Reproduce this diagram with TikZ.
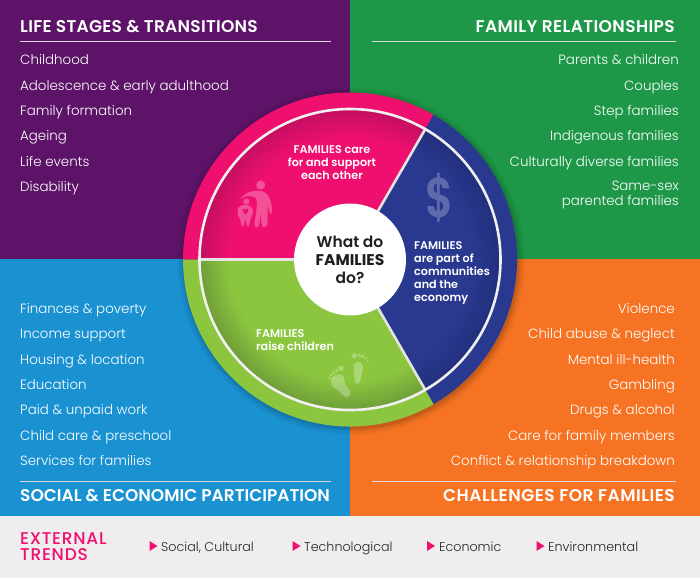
\documentclass[tikz,border=0pt]{standalone}
\usepackage{graphicx}
\usepackage{fontspec}
\setmainfont{Poppins}
\newfontfamily\hfont{Poppins Medium}
\newfontfamily\bfont{Poppins SemiBold}
\newfontfamily\xfont{Poppins Bold}
\newfontfamily\lfont{Poppins Light}
\definecolor{cpurple}{HTML}{5D1468}
\definecolor{cgreen}{HTML}{1E9848}
\definecolor{cblue}{HTML}{1A92D2}
\definecolor{corange}{HTML}{F57322}
\definecolor{cgrey}{HTML}{EFEDEE}
\definecolor{cpink}{HTML}{EE0F6F}
\definecolor{cpinkd}{HTML}{C40F60}
\definecolor{cnavy}{HTML}{2A3990}
\definecolor{cnavyd}{HTML}{222F7C}
\definecolor{clime}{HTML}{8CC63F}
\definecolor{climed}{HTML}{6F9D38}
\definecolor{cspoke}{HTML}{E4E4E0}
\pgfdeclareradialshading{vpink}{\pgfpoint{0bp}{0bp}}{color(0bp)=(cpink);color(20bp)=(cpink);color(25bp)=(cpinkd);color(50bp)=(cpinkd)}
\pgfdeclareradialshading{vnavy}{\pgfpoint{0bp}{0bp}}{color(0bp)=(cnavy);color(20bp)=(cnavy);color(25bp)=(cnavyd);color(50bp)=(cnavyd)}
\pgfdeclareradialshading{vlime}{\pgfpoint{0bp}{0bp}}{color(0bp)=(clime);color(20bp)=(clime);color(25bp)=(climed);color(50bp)=(climed)}
\tikzset{
  listitem/.style={text=white,font=\lfont\fontsize{13.4}{15}\selectfont,inner sep=0pt},
  lefti/.style={listitem,anchor=west,text height=10pt,text depth=0pt},
  righti/.style={listitem,anchor=east,align=right,text height=10pt,text depth=0pt},
  headl/.style={text=white,font=\bfont\fontsize{17}{18}\selectfont,inner sep=0pt,text height=12pt,text depth=0pt},
  rulel/.style={white!85!black,line width=0.8pt},
  seg/.style={text=white,font=\bfont\fontsize{11.2}{13}\selectfont,inner sep=0pt},
  trend/.style={text=black!85,font=\lfont\fontsize{12.7}{15}\selectfont,inner sep=0pt,anchor=west,text height=10pt,text depth=0pt},
  tri/.style={fill=cpink},
  ghost/.style={fill=white,fill opacity=0.28,draw=none},
}
\begin{document}
\begin{tikzpicture}[x=1pt,y=-1pt]
\useasboundingbox (0,0) rectangle (700,578);
\fill[cpurple] (0,0) rectangle (350,259);
\fill[cgreen] (350,0) rectangle (700,259);
\fill[cblue] (0,259) rectangle (350,516);
\fill[corange] (350,259) rectangle (700,516);
\fill[cgrey] (0,516) rectangle (700,578);
% headings
\node[headl,anchor=west] (h1) at (20,27) {\addfontfeature{LetterSpace=1.6}LIFE STAGES \& TRANSITIONS};
\node[headl,anchor=east] (h2) at (675,27) {\addfontfeature{LetterSpace=2.3}FAMILY RELATIONSHIPS};
\node[headl,anchor=west] (h3) at (20,495) {SOCIAL \& ECONOMIC PARTICIPATION};
\node[headl,anchor=east] (h4) at (675,495) {\addfontfeature{LetterSpace=3}CHALLENGES FOR FAMILIES};
\draw[rulel] (20,41) -- (331,41);
\draw[rulel] (372,41) -- (676,41);
\draw[rulel] (20,481) -- (331,481);
\draw[rulel] (372,481) -- (676,481);
% lists
\node[lefti] (a1) at (20,59) {Childhood};
\node[lefti] (a2) at (20,85) {Adolescence \& early adulthood};
\node[lefti] (a3) at (20,110) {Family formation};
\node[lefti] (a4) at (20,135) {Ageing};
\node[lefti] (a5) at (20,161) {Life events};
\node[lefti] (a6) at (20,186) {Disability};
\node[righti] (b1) at (679,59) {Parents \& children};
\node[righti] (b2) at (679,85) {Couples};
\node[righti] (b3) at (679,110) {Step families};
\node[righti] (b4) at (679,135) {Indigenous families};
\node[righti] (b5) at (679,161) {Culturally diverse families};
\node[listitem,anchor=east,align=right] (b6) at (679,194.5) {Same-sex\\parented families};
\node[lefti] (c1) at (20,308) {Finances \& poverty};
\node[lefti] (c2) at (20,333) {Income support};
\node[lefti] (c3) at (20,359) {Housing \& location};
\node[lefti] (c4) at (20,384) {Education};
\node[lefti] (c5) at (20,409) {Paid \& unpaid work};
\node[lefti] (c6) at (20,435) {Child care \& preschool};
\node[lefti] (c7) at (20,460) {Services for families};
\node[righti] (d1) at (675,308) {Violence};
\node[righti] (d2) at (675,333) {Child abuse \& neglect};
\node[righti] (d3) at (675,359) {Mental ill-health};
\node[righti] (d4) at (675,384) {Gambling};
\node[righti] (d5) at (675,409) {Drugs \& alcohol};
\node[righti] (d6) at (675,435) {Care for family members};
\node[righti] (d7) at (675,460) {Conflict \& relationship breakdown};
% disc
\begin{scope}[shift={(350,259.5)},y=1pt]
  \foreach \r/\o in {174/0.03,172/0.04,170/0.05,168.5/0.07}
    \fill[black,opacity=\o] (1,-1.5) circle (\r);
  \fill[cpink] (0,0) -- (180:167) arc (180:60:167) -- cycle;
  \fill[cnavy] (0,0) -- (60:167) arc (60:-60:167) -- cycle;
  \fill[clime] (0,0) -- (-60:167) arc (-60:-180:167) -- cycle;
  \begin{scope}
    \clip (0,0) -- (180:151) arc (180:60:151) -- cycle;
    \shade[shading=vpink] (0,0) circle (151);
  \end{scope}
  \begin{scope}
    \clip (0,0) -- (60:151) arc (60:-60:151) -- cycle;
    \shade[shading=vnavy] (0,0) circle (151);
  \end{scope}
  \begin{scope}
    \clip (0,0) -- (-60:151) arc (-60:-180:151) -- cycle;
    \shade[shading=vlime] (0,0) circle (151);
  \end{scope}
  \draw[cspoke,line width=2.6pt] (0,0) -- (180:150);
  \draw[cspoke,line width=2.6pt] (0,0) -- (60:150);
  \draw[cspoke,line width=2.6pt] (0,0) -- (-60:150);
  \draw[white!94!black,line width=2.6pt] (0,0) circle (150.5);
\end{scope}
% adult and child icon
\fill[ghost] (260.7,185) circle (4.5);
\fill[ghost] (246.3,201.5) circle (3.1);
\fill[ghost] (240.5,199) .. controls (246,191) and (256,189.5) .. (263,191.5)
  .. controls (270,194) and (272,204) .. (272,212) .. controls (272,214) and (270,215) .. (269.5,212)
  .. controls (269,209) and (268,206) .. (267.5,205) -- (267.5,222) .. controls (267.5,229) and (261.5,229) .. (261.5,223)
  -- (260.5,213) -- (259.5,223) .. controls (259,229) and (254,229) .. (254.5,223)
  .. controls (256,212) and (258,204) .. (256,198.5) .. controls (252,195) and (246,195) .. (240.5,199) -- cycle;
\fill[ghost] (237.5,211) .. controls (237.5,206) and (242,205) .. (245.5,205) .. controls (249,205) and (253,207) .. (253,211)
  .. controls (253,215) and (251,218) .. (250,220) -- (249.5,224) .. controls (249,227) and (247,227) .. (246.5,224)
  -- (245.5,219) -- (244,224) .. controls (243.5,227) and (241,227) .. (241,224) -- (240.5,220)
  .. controls (239,218) and (237.5,215) .. (237.5,211) -- cycle;
\fill[cpink] (245.5,214.5) .. controls (242.2,211.5) and (241.7,209) .. (243.7,208.5) .. controls (244.7,208.3) and (245.2,209) .. (245.5,209.7)
  .. controls (245.8,209) and (246.4,208.3) .. (247.4,208.5) .. controls (249.2,209) and (248.8,211.5) .. (245.5,214.5) -- cycle;
% dollar
\node[inner sep=0pt,text=white,text opacity=0.25] (dollar) at (439.5,198) {\scalebox{0.8}[1.04]{\fontsize{54}{54}\bfont\selectfont\$}};
% feet
\fill[ghost] (353.5,366) .. controls (354,361) and (362,360) .. (363,366)
  .. controls (363.5,371) and (361,374) .. (360.5,380) .. controls (360,385) and (354,385) .. (354.5,379)
  .. controls (355,374) and (353,371) .. (353.5,366) -- cycle;
\fill[ghost] (354.3,355.7) circle (2.6);
\fill[ghost] (359.3,355.3) circle (1.9);
\fill[ghost] (362.7,356.3) circle (1.7);
\fill[ghost] (365.7,358.3) circle (1.4);
\fill[ghost] (367.7,360.7) circle (1.2);
\fill[ghost] (330.5,381) .. controls (330,376) and (340,371) .. (343.5,377)
  .. controls (345,381) and (344,384) .. (347,387) .. controls (352,391) and (351,397) .. (347,397)
  .. controls (343,397) and (341,392) .. (338,390) .. controls (334,388) and (331,386) .. (330.5,381) -- cycle;
\fill[ghost] (341,368.3) circle (2.7);
\fill[ghost] (336.7,370.7) circle (1.9);
\fill[ghost] (333.7,372.7) circle (1.7);
\fill[ghost] (331,375) circle (1.5);
\fill[ghost] (329.3,378) circle (1.3);
% segment labels
\node[seg,align=center,anchor=center] (s1) at (332,163) {FAMILIES care\\for and support\\each other};
\node[seg,align=left,anchor=west] (s2) at (414,272.7) {FAMILIES\\are part of\\communities\\and the\\economy};
\node[seg,align=left,anchor=west] (s3) at (256,340.2) {FAMILIES\\raise children};
% centre
\node[circle,fill=white,minimum size=112pt,inner sep=0pt,align=center,text=black!88,font=\bfont\fontsize{15.5}{18}\selectfont] (hub) at (350,259.5)
  {What do\\{\xfont FAMILIES}\\do?};
% external trends
\node[inner sep=0pt,anchor=west,align=left,text=cpink,font=\hfont\fontsize{17}{16}\selectfont] (ext) at (20,547) {\addfontfeature{LetterSpace=4.5}EXTERNAL\\\addfontfeature{LetterSpace=4.5}TRENDS};
\fill[tri] (149.5,541) -- (157.5,546) -- (149.5,551) -- cycle;
\fill[tri] (292.5,541) -- (300.5,546) -- (292.5,551) -- cycle;
\fill[tri] (427,541) -- (435,546) -- (427,551) -- cycle;
\fill[tri] (536.5,541) -- (544.5,546) -- (536.5,551) -- cycle;
\node[trend] (t1) at (161,546) {Social, Cultural};
\node[trend] (t2) at (304,546) {Technological};
\node[trend] (t3) at (439,546) {Economic};
\node[trend] (t4) at (548,546) {Environmental};
\end{tikzpicture}
\end{document}
